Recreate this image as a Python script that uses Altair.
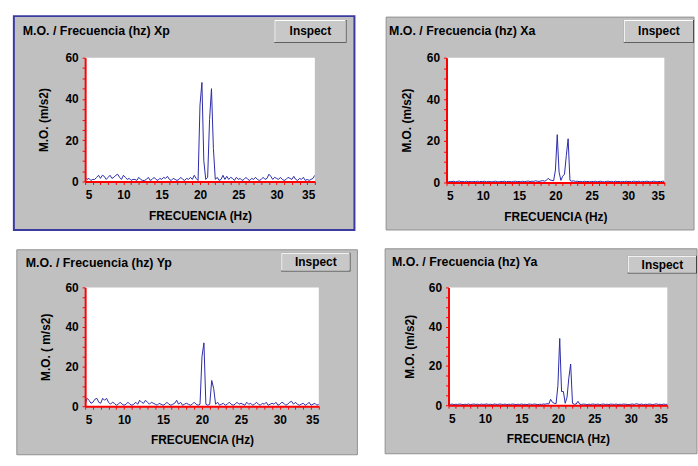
import altair as alt
import pandas as pd

FREQ_START = 5.0
FREQ_STEP = 0.25

# spectra, 5..35 Hz every 0.25 Hz (121 values each)
XP = [2, 1, 1.5, 0.5, 1, 1, 2, 3, 1.5, 3, 2.5, 1, 2, 3, 1.5, 2, 3, 3.5, 2, 1,
      3, 2, 1, 1.5, 0.5, 1, 1, 0.5, 2, 1, 0.5, 0.5, 1, 2, 0.5, 1, 2, 1, 0.5, 1.5,
      1, 2, 1.5, 2.5, 1, 0.5, 1.5, 1, 0.5, 1, 2, 1, 0.5, 1.5, 1, 2, 1, 3, 1.5, 0.5,
      37, 48, 10, 1, 2, 30, 45, 16, 1, 2, 0.5, 1, 3, 1, 2.5, 1, 2, 1.5, 0.5, 2,
      1, 1.5, 0.5, 1, 2, 1, 0.5, 1.5, 1, 2, 1, 0.5, 1, 2, 1, 1.5, 3.5, 2.5, 1, 2,
      1.5, 1, 2, 1, 0.5, 1, 2, 1.5, 1, 2.5, 1, 0.5, 1.5, 1, 2, 0.5, 1, 0.5, 1, 1.5,
      3]
XA = [0.5, 0.3, 0.5, 0.4, 0.6, 0.3, 0.5, 0.7, 0.4, 0.5, 0.3, 0.6, 0.4, 0.5, 0.3, 0.5, 0.4, 0.6, 0.3, 0.5,
      0.4, 0.6, 0.3, 0.5, 0.4, 0.3, 0.5, 0.6, 0.4, 0.3, 0.5, 0.4, 0.6, 0.3, 0.5, 0.4, 0.3, 0.5, 0.6, 0.4,
      0.5, 0.3, 0.6, 0.4, 0.5, 0.7, 0.4, 0.6, 0.5, 0.8, 0.6, 0.5, 0.7, 0.9, 0.6, 1, 2, 1.2, 1, 0.8,
      6, 23, 5, 1, 3, 4, 13, 21, 1, 0.6, 0.8, 0.5, 0.6, 0.4, 0.5, 0.3, 0.6, 0.4, 0.5, 0.3,
      0.5, 0.4, 0.6, 0.3, 0.5, 0.6, 0.4, 0.3, 0.5, 0.6, 0.4, 0.5, 0.3, 0.6, 0.4, 0.5, 0.3, 0.5, 0.4, 0.6,
      0.4, 0.5, 0.3, 0.6, 0.5, 0.4, 0.6, 0.3, 0.5, 0.4, 0.6, 0.5, 0.3, 0.4, 0.6, 0.5, 0.3, 0.5, 0.4, 0.6,
      0.5]
YP = [1, 4, 3, 1.5, 2, 3.5, 4, 2, 1.5, 4, 3, 4, 2, 1, 2, 1.5, 0.5, 1, 2, 1,
      0.5, 1, 2, 1, 0.5, 1, 2, 1, 3, 2, 1.5, 3, 2, 1, 2, 1.5, 1, 0.5, 1.5, 1,
      0.5, 1, 2, 1, 0.5, 1, 1.5, 3, 1, 2, 0.5, 1, 1.5, 1, 0.5, 1, 2, 1, 0.5, 1,
      25, 32, 1, 0.5, 1, 13, 9, 1, 2, 0.5, 1, 1.5, 0.5, 1, 2, 1, 0.5, 1, 2, 1,
      1.5, 1, 0.5, 2, 1, 1.5, 0.5, 1, 2, 1, 0.5, 1.5, 1, 2, 0.5, 1, 1.5, 1, 2, 0.5,
      1, 2, 1.5, 0.5, 1, 2, 2.5, 1, 2, 1, 0.5, 1, 1.5, 0.5, 1, 2, 0.5, 1, 1.5, 0.5,
      1]
YA = [0.5, 0.4, 0.6, 0.3, 0.5, 0.4, 0.6, 0.5, 0.3, 0.5, 0.4, 0.6, 0.3, 0.5, 0.6, 0.4, 0.5, 0.3, 0.6, 0.4,
      0.5, 0.6, 0.4, 0.5, 0.3, 0.6, 0.5, 0.4, 0.6, 0.5, 0.4, 0.6, 0.3, 0.5, 0.4, 0.6, 0.5, 0.3, 0.5, 0.4,
      0.6, 0.4, 0.5, 0.3, 0.6, 0.5, 0.4, 0.6, 0.5, 0.3, 0.5, 0.4, 0.6, 0.5, 0.8, 0.6, 3, 1.5, 1, 0.8,
      10, 34, 7, 7, 1, 4, 14, 21, 1, 0.5, 0.6, 2, 0.5, 0.4, 0.6, 0.5, 0.3, 0.5, 0.4, 0.6,
      0.5, 0.4, 0.6, 0.3, 0.5, 0.6, 0.4, 0.5, 0.3, 0.6, 0.5, 0.4, 0.6, 0.3, 0.5, 0.4, 0.6, 0.5, 0.4, 0.3,
      0.5, 0.6, 0.4, 0.8, 0.5, 0.4, 0.6, 0.3, 0.5, 0.4, 0.6, 0.5, 0.3, 0.5, 0.7, 0.4, 0.5, 0.3, 0.6, 0.4,
      0.5]

PANEL_TITLES = ["M.O. / Frecuencia (hz)  Xp", "M.O. / Frecuencia (hz)  Xa",
                "M.O. / Frecuencia (hz)  Yp", "M.O. / Frecuencia (hz)  Ya"]
Y_TITLES = ["M.O. (m/s2)", "M.O. (m/s2)", "M.O. ( m/s2)", "M.O. (m/s2)"]
X_TITLE = "FRECUENCIA (Hz)"
BUTTON_TEXT = "Inspect"
X_TICKS = list(range(5, 36))
Y_TICKS = list(range(0, 61, 5))

FONT = "Liberation Sans"
GREY = "#c0c0c0"
LINE = "#2a2aa8"
RED = "#ff0000"

# layout (pixels relative to each plot area)
LAYOUT = [
    dict(w=232, h=125, fx=-72, fx2=272, fy=-42, fy2=174, border="#3a3aa0", bw=2,
         bx=191, bx2=264, by=-38, by2=-15, tx=-63, ty=-27, ytx=-42),
    dict(w=220, h=126, fx=-61, fx2=250, fy=-41, fy2=174, border="#909090", bw=1,
         bx=179, bx2=250, by=-38, by2=-15, tx=-58, ty=-27, ytx=-40),
    dict(w=236, h=120, fx=-69, fx2=275, fy=-38, fy2=169, border="#909090", bw=1,
         bx=198, bx2=268, by=-35, by2=-16, tx=-60, ty=-25, ytx=-40),
    dict(w=221, h=119, fx=-64, fx2=251, fy=-39, fy2=168, border="#909090", bw=1,
         bx=181, bx2=251, by=-32, by2=-14, tx=-57, ty=-26, ytx=-39),
]

ONE = alt.Data(values=[{"k": 1}])


def rect(x, x2, y, y2, fill, stroke=None, sw=0):
    kw = dict(fill=fill)
    if stroke:
        kw.update(stroke=stroke, strokeWidth=sw)
    return alt.Chart(ONE).mark_rect(**kw).encode(
        x=alt.value(x), x2=alt.value(x2), y=alt.value(y), y2=alt.value(y2))


AX = dict(domainColor=RED, tickColor=RED, domainWidth=2, tickWidth=1, grid=False,
          labelFont=FONT, labelFontSize=12, labelFontWeight="bold", labelColor="black",
          titleFont=FONT, titleFontSize=12, titleFontWeight="bold", titleColor="black",
          zindex=2, labelOverlap=False, tickSize=3)


def panel(values, title, ytitle, L):
    df = pd.DataFrame({"f": [FREQ_START + FREQ_STEP * i for i in range(len(values))],
                       "v": values})
    w, h = L["w"], L["h"]
    frame = rect(L["fx"], L["fx2"], L["fy"], L["fy2"], GREY, L["border"], L["bw"])
    white = rect(0, w, 0, h, "white")
    b_dark = rect(L["bx"], L["bx2"], L["by"], L["by2"], "#404040")
    b_light = rect(L["bx"], L["bx2"] - 1, L["by"], L["by2"] - 1, "white")
    b_face = rect(L["bx"] + 1, L["bx2"] - 1, L["by"] + 1, L["by2"] - 1, "#c8c8c8")
    b_text = alt.Chart(ONE).mark_text(
        text=BUTTON_TEXT, font=FONT, fontSize=12, fontWeight="bold", color="black",
        align="center", baseline="middle").encode(
        x=alt.value((L["bx"] + L["bx2"]) / 2), y=alt.value((L["by"] + L["by2"]) / 2))
    t_text = alt.Chart(ONE).mark_text(
        text=title, font=FONT, fontSize=12.5, fontWeight="bold", color="black",
        align="left", baseline="middle").encode(x=alt.value(L["tx"]), y=alt.value(L["ty"]))
    line = alt.Chart(df).mark_line(color=LINE, strokeWidth=1, clip=True).encode(
        x=alt.X("f:Q", scale=alt.Scale(domain=[5, 35], nice=False, zero=False),
                axis=alt.Axis(values=X_TICKS, title=X_TITLE,
                              labelExpr="datum.value % 5 == 0 ? datum.label : ''",
                              labelPadding=5, titleY=34, titleBaseline="middle", **AX)),
        y=alt.Y("v:Q", scale=alt.Scale(domain=[0, 60], nice=False),
                axis=alt.Axis(values=Y_TICKS, title=ytitle,
                              labelExpr="datum.value % 20 == 0 ? datum.label : ''",
                              labelPadding=4, titleX=L["ytx"], titleY=h / 2,
                              titleAngle=-90, titleAlign="center",
                              titleBaseline="middle", **AX)),
    )
    return alt.layer(frame, white, b_dark, b_light, b_face, b_text, t_text, line).properties(
        width=w, height=h)


p = [panel(v, t, yt, L) for v, t, yt, L in zip([XP, XA, YP, YA], PANEL_TITLES, Y_TITLES, LAYOUT)]

row1 = alt.hconcat(p[0], p[1], spacing=30)
row2 = alt.hconcat(p[2], p[3], spacing=26)

chart = alt.vconcat(row1, row2, spacing=17).properties(
    padding={"left": 13, "top": 13, "right": 0, "bottom": 0},
    background="white",
).configure_view(stroke=None)

chart.save("out.html", embed_options={"renderer": "svg", "actions": False})
